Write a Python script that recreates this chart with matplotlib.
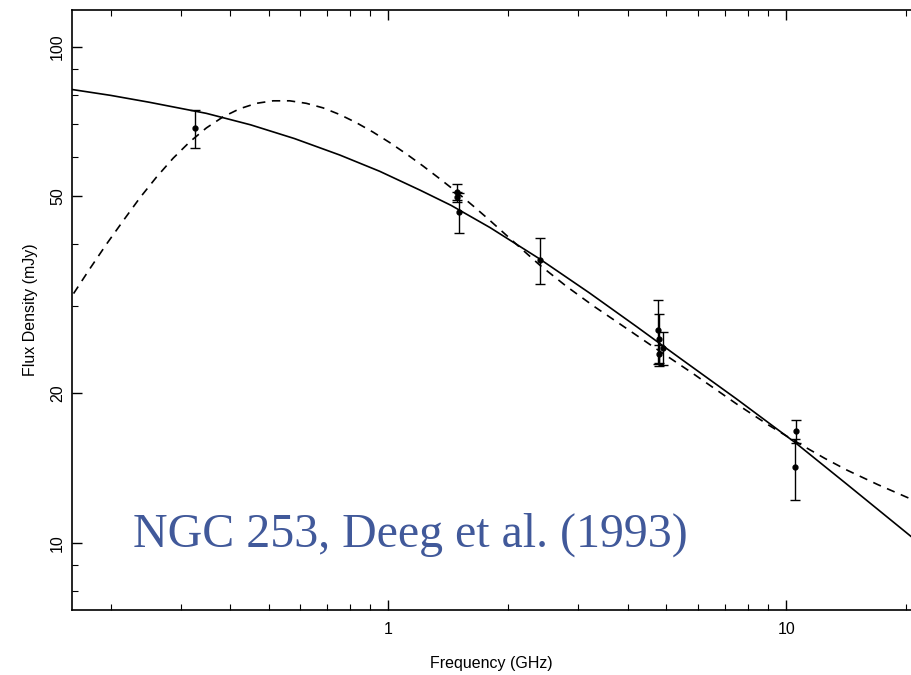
import matplotlib
matplotlib.use('Agg')
import matplotlib.pyplot as plt
from matplotlib.ticker import FixedLocator, NullFormatter, FixedFormatter

# Observed data (GHz, mJy)
freq_obs = [0.327, 1.49, 1.49, 1.50, 2.40, 4.76, 4.78, 4.80, 4.90, 10.5, 10.6]
flux_obs = [68.5, 51.0, 49.8, 46.4, 37.2, 26.9, 25.8, 24.0, 24.7, 14.2, 16.8]
flux_err = [5.9, 1.8, 1.2, 4.2, 4.0, 4.0, 3.1, 1.0, 1.9, 2.0, 0.9]

# Solid model curve
solid_freq = [0.16, 0.20, 0.25, 0.3484, 0.45, 0.58, 0.754, 0.95, 1.2, 1.436,
              1.8, 2.393, 3.2, 4.2, 5.43, 7.5, 10.56, 14.25, 20.6]
solid_flux = [82.0, 79.8, 77.3, 73.4, 69.6, 65.3, 60.5, 56.1, 51.4, 47.9,
              43.2, 37.4, 31.9, 27.3, 23.5, 19.5, 15.9, 13.1, 10.3]

# Dashed model curve
dash_freq = [0.1615, 0.1775, 0.1954, 0.2153, 0.2371, 0.261, 0.2874, 0.3164, 0.3484, 0.3836,
             0.4227, 0.4655, 0.5127, 0.5646, 0.6215, 0.6845, 0.754, 0.830, 0.914, 1.007,
             1.109, 1.221, 1.345, 1.481, 1.631, 1.796, 1.978, 2.178, 2.40, 2.80,
             3.30, 3.90, 4.75, 5.8, 7.54, 9.0, 10.56, 12.5, 14.25, 17.0, 20.6]
dash_flux = [31.8, 35.7, 40.0, 44.6, 49.6, 54.6, 59.6, 64.3, 68.6, 72.2,
             75.0, 76.9, 77.8, 77.8, 76.9, 75.3, 73.0, 70.3, 67.3, 64.1,
             60.8, 57.5, 54.2, 51.0, 47.8, 44.7, 41.7, 38.9, 36.3, 32.9,
             29.9, 27.3, 24.5, 22.0, 19.0, 17.3, 16.0, 14.8, 14.0, 13.1, 12.25]

x_major = [1, 10]
x_major_labels = ['1', '10']
x_minor = [0.2, 0.3, 0.4, 0.5, 0.6, 0.7, 0.8, 0.9, 2, 3, 4, 5, 6, 7, 8, 9, 20]
y_major = [10, 20, 50, 100]
y_major_labels = ['10', '20', '50', '100']
y_minor = [8, 9, 30, 40, 60, 70, 80, 90]

annotation = 'NGC 253, Deeg et al. (1993)'

fig = plt.figure(figsize=(9.11, 6.75), dpi=100)
ax = fig.add_axes([0.079, 0.0963, 0.921, 0.8889])

ax.plot(solid_freq, solid_flux, color='black', lw=1.2)
ax.plot(dash_freq, dash_flux, color='black', lw=1.2, ls=(0, (5, 4)))
ax.errorbar(freq_obs, flux_obs, yerr=flux_err, fmt='o', color='black',
            ms=3.5, capsize=3.5, elinewidth=1.0, capthick=1.0)

ax.set_xscale('log')
ax.set_yscale('log')
ax.set_xlim(0.160, 20.6)
ax.set_ylim(7.32, 118.6)

ax.xaxis.set_major_locator(FixedLocator(x_major))
ax.xaxis.set_major_formatter(FixedFormatter(x_major_labels))
ax.xaxis.set_minor_locator(FixedLocator(x_minor))
ax.xaxis.set_minor_formatter(NullFormatter())
ax.yaxis.set_major_locator(FixedLocator(y_major))
ax.yaxis.set_major_formatter(FixedFormatter(y_major_labels))
ax.yaxis.set_minor_locator(FixedLocator(y_minor))
ax.yaxis.set_minor_formatter(NullFormatter())

ax.tick_params(which='both', direction='in', top=True, right=False,
               labelfontfamily='Liberation Sans')
ax.tick_params(which='major', length=7, width=1.0, labelsize=11.5)
ax.tick_params(which='minor', length=4, width=0.8)
ax.tick_params(axis='x', which='major', pad=9)
ax.tick_params(axis='y', which='major', pad=5)
for lab in ax.get_yticklabels():
    lab.set_rotation(90)
    lab.set_va('center')

ax.spines['right'].set_visible(False)
for s in ['left', 'bottom', 'top']:
    ax.spines[s].set_linewidth(1.2)

ax.set_xlabel('Frequency (GHz)', fontsize=11.5, family='Liberation Sans', labelpad=13)
ax.set_ylabel('Flux Density (mJy)', fontsize=11.5, family='Liberation Sans', labelpad=9)

ax.text(0.0727, 0.105, annotation, transform=ax.transAxes, fontsize=34.5,
        family='Liberation Serif', color='#41599A', va='baseline', ha='left')

fig.savefig('out.png', dpi=100)
